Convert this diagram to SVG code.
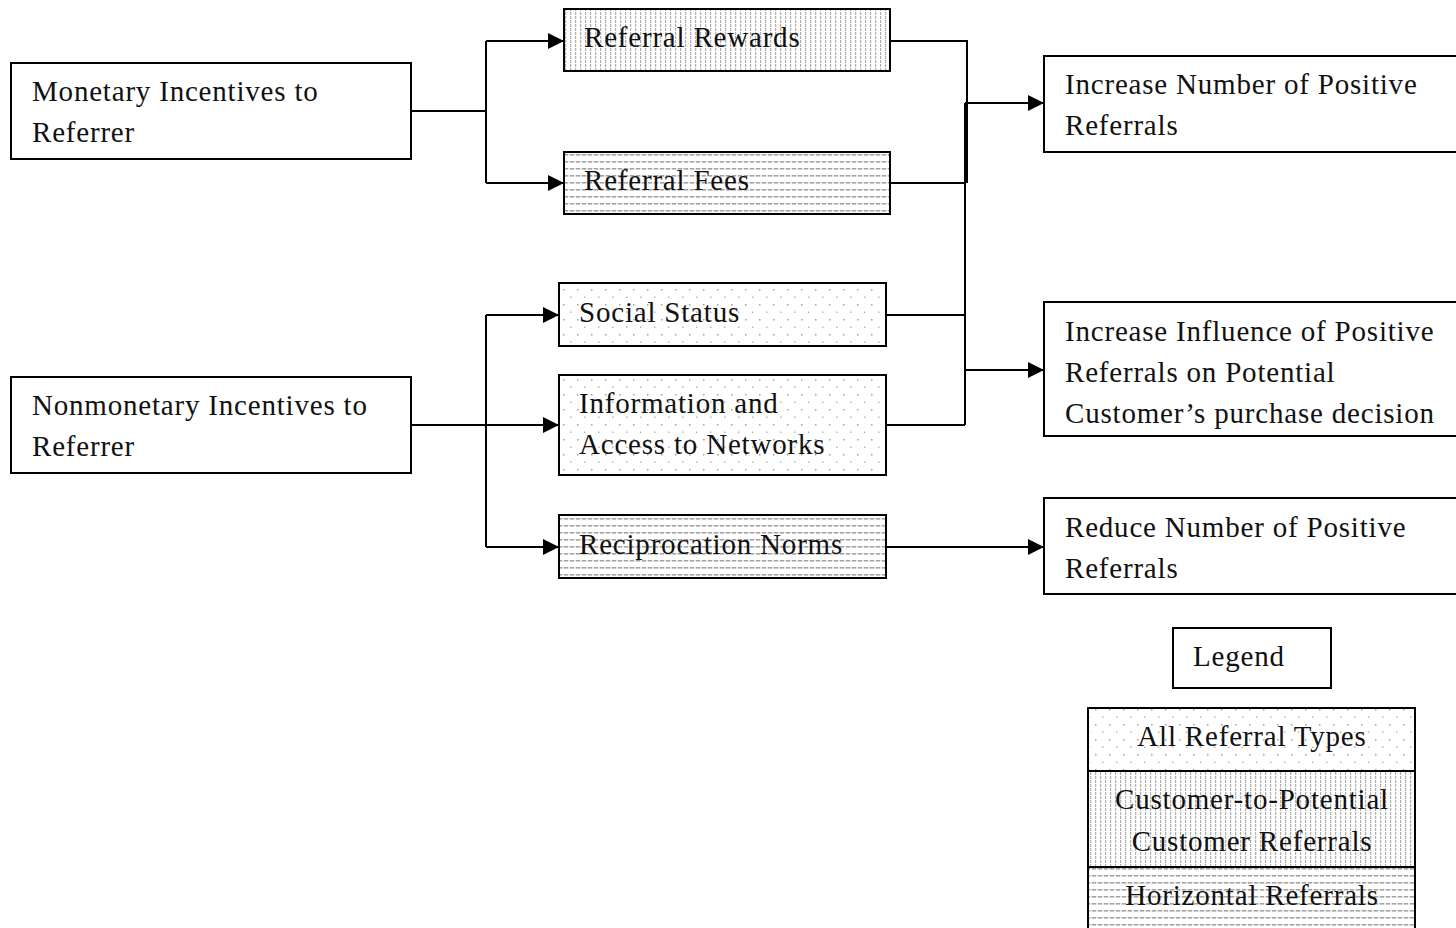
<svg xmlns="http://www.w3.org/2000/svg" width="1456" height="928" viewBox="0 0 1456 928">
<style>
.box{stroke:#000;stroke-width:2;}
.plain{fill:#fff;}
.t{font-family:"Liberation Serif",serif;font-size:29px;letter-spacing:0.8px;fill:#111;}
.c{fill:none;stroke:#000;stroke-width:2;}
</style>
<defs>
<pattern id="vert" width="5" height="4" patternUnits="userSpaceOnUse">
<rect width="5" height="4" fill="#fff"/>
<rect x="0" y="0" width="1.2" height="3" fill="#b0b0b0"/>
</pattern>
<pattern id="horiz" width="6" height="7" patternUnits="userSpaceOnUse">
<rect width="6" height="7" fill="#fff"/>
<rect x="0" y="0" width="4" height="1.6" fill="#a4a4a4"/>
<rect x="4.5" y="0" width="1" height="1.6" fill="#cccccc"/>
</pattern>
<pattern id="dots" width="14" height="15" patternUnits="userSpaceOnUse">
<rect width="14" height="15" fill="#fff"/>
<rect x="3" y="4" width="1.5" height="1.5" fill="#a0a0a0"/>
<rect x="10" y="11.5" width="1.5" height="1.5" fill="#b8b8b8"/>
</pattern>
<marker id="arr" markerWidth="16" markerHeight="16" refX="15" refY="8" orient="auto" markerUnits="userSpaceOnUse">
<path d="M0,0 L16,8 L0,16 Z" fill="#000"/>
</marker>
</defs>

<g id="connectors">
<path class="c" d="M411,111 H486"/>
<path class="c" d="M486,41 V183"/>
<path class="c" d="M486,41 H563" marker-end="url(#arr)"/>
<path class="c" d="M486,183 H563" marker-end="url(#arr)"/>
<path class="c" d="M411,425 H558" marker-end="url(#arr)"/>
<path class="c" d="M486,315 V547"/>
<path class="c" d="M486,315 H558" marker-end="url(#arr)"/>
<path class="c" d="M486,547 H558" marker-end="url(#arr)"/>
<path class="c" d="M890,41 H967 V183"/>
<path class="c" d="M890,183 H966"/>
<path class="c" d="M965,103 V425"/>
<path class="c" d="M965,103 H1043" marker-end="url(#arr)"/>
<path class="c" d="M886,315 H965"/>
<path class="c" d="M886,425 H965"/>
<path class="c" d="M965,370 H1043" marker-end="url(#arr)"/>
<path class="c" d="M886,547 H1043" marker-end="url(#arr)"/>
</g>

<g id="monetary">
<rect class="box plain" x="11" y="63" width="400" height="96"/>
<text class="t" x="32" y="101">Monetary Incentives to</text>
<text class="t" x="32" y="142">Referrer</text>
</g>
<g id="nonmonetary">
<rect class="box plain" x="11" y="377" width="400" height="96"/>
<text class="t" x="32" y="415">Nonmonetary Incentives to</text>
<text class="t" x="32" y="456">Referrer</text>
</g>
<g id="referral-rewards">
<rect class="box" fill="url(#vert)" x="564" y="9" width="326" height="62"/>
<text class="t" x="584" y="47">Referral Rewards</text>
</g>
<g id="referral-fees">
<rect class="box" fill="url(#horiz)" x="564" y="152" width="326" height="62"/>
<text class="t" x="584" y="190">Referral Fees</text>
</g>
<g id="social-status">
<rect class="box" fill="url(#dots)" x="559" y="283" width="327" height="63"/>
<text class="t" x="579" y="322">Social Status</text>
</g>
<g id="information">
<rect class="box" fill="url(#dots)" x="559" y="375" width="327" height="100"/>
<text class="t" x="579" y="413">Information and</text>
<text class="t" x="579" y="454">Access to Networks</text>
</g>
<g id="reciprocation">
<rect class="box" fill="url(#horiz)" x="559" y="515" width="327" height="63"/>
<text class="t" x="579" y="554">Reciprocation Norms</text>
</g>
<g id="increase-number">
<rect class="box plain" x="1044" y="56" width="420" height="96"/>
<text class="t" x="1065" y="94">Increase Number of Positive</text>
<text class="t" x="1065" y="135">Referrals</text>
</g>
<g id="increase-influence">
<rect class="box plain" x="1044" y="302" width="420" height="134"/>
<text class="t" x="1065" y="341">Increase Influence of Positive</text>
<text class="t" x="1065" y="382">Referrals on Potential</text>
<text class="t" x="1065" y="423">Customer’s purchase decision</text>
</g>
<g id="reduce-number">
<rect class="box plain" x="1044" y="498" width="420" height="96"/>
<text class="t" x="1065" y="537">Reduce Number of Positive</text>
<text class="t" x="1065" y="578">Referrals</text>
</g>
<g id="legend-title">
<rect class="box plain" x="1173" y="628" width="158" height="60"/>
<text class="t" x="1193" y="666">Legend</text>
</g>
<g id="legend">
<rect class="box" fill="url(#dots)" x="1088" y="708" width="327" height="63"/>
<text class="t" x="1252" y="746" text-anchor="middle">All Referral Types</text>
<rect class="box" fill="url(#vert)" x="1088" y="771" width="327" height="96"/>
<text class="t" x="1252" y="809" text-anchor="middle">Customer-to-Potential</text>
<text class="t" x="1252" y="851" text-anchor="middle">Customer Referrals</text>
<rect class="box" fill="url(#horiz)" x="1088" y="867" width="327" height="70"/>
<text class="t" x="1252" y="905" text-anchor="middle">Horizontal Referrals</text>
</g>
</svg>
